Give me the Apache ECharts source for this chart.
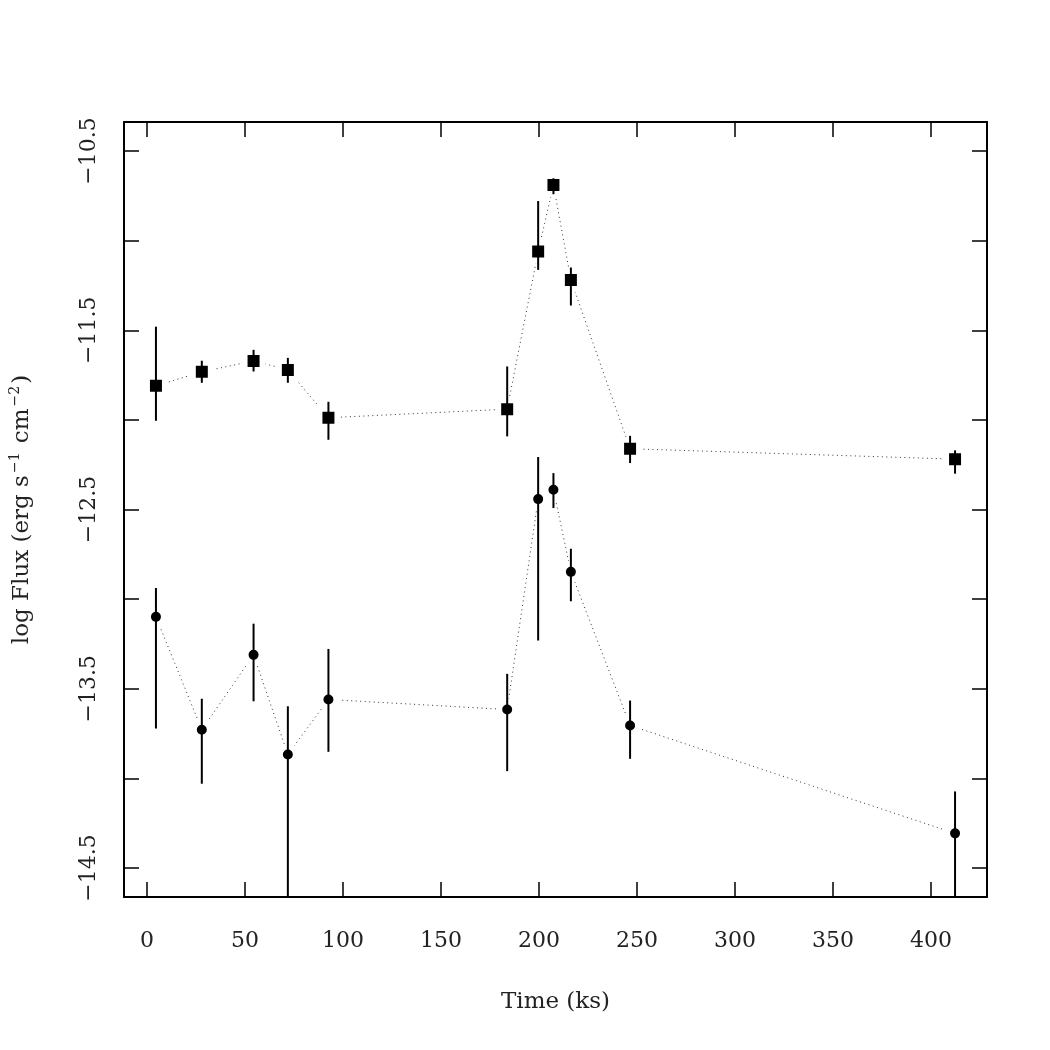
<!DOCTYPE html>
<html>
<head>
<meta charset="utf-8">
<script src="https://cdn.jsdelivr.net/npm/echarts@6/dist/echarts.min.js"></script>
<style>
  html, body { margin: 0; padding: 0; background: #fff; }
  #chart { width: 1050px; height: 1050px; }
</style>
</head>
<body>
<div id="chart"></div>
<script>
// observation times (ks)
const times = [4.6, 28.0, 54.4, 71.9, 92.6, 183.8, 199.6, 207.4, 216.3, 246.5, 412.3]

// upper curve (squares)
const squareFlux = [-11.81, -11.732, -11.671, -11.721, -11.988, -11.94, -11.061, -10.69, -11.219, -12.161, -12.219]
const squareHi = [-11.48, -11.67, -11.609, -11.654, -11.899, -11.702, -10.779, -10.652, -11.15, -12.089, -12.17]
const squareLo = [-12.005, -11.793, -11.73, -11.793, -12.111, -12.092, -11.163, -10.741, -11.362, -12.241, -12.3]

// lower curve (circles)
const circleFlux = [-13.099, -13.729, -13.311, -13.867, -13.56, -13.616, -12.442, -12.39, -12.848, -13.705, -14.307]
const circleHi = [-12.938, -13.556, -13.137, -13.598, -13.278, -13.417, -12.207, -12.297, -12.719, -13.566, -14.073]
const circleLo = [-13.722, -14.03, -13.57, -14.9, -13.852, -13.96, -13.231, -12.492, -13.012, -13.891, -14.9]

const xTicks = [0, 50, 100, 150, 200, 250, 300, 350, 400]
const yTicks = [-14.5, -14, -13.5, -13, -12.5, -12, -11.5, -11, -10.5]
const yLabels = [-14.5, -13.5, -12.5, -11.5, -10.5]

const FONT = 'DejaVu Serif'
const TXT = '#222'

const chart = echarts.init(document.getElementById('chart'))

function pairs(xs, ys) {
  return xs.map((x, i) => [x, ys[i]])
}

function errRows(lo, hi) {
  return times.map((t, i) => [t, lo[i], hi[i]])
}

// vertical error bar, clipped to the plot box
function renderErr(params, api) {
  const cs = params.coordSys
  const p1 = api.coord([api.value(0), api.value(1)])
  const p2 = api.coord([api.value(0), api.value(2)])
  const clamp = (y) => Math.min(Math.max(y, cs.y), cs.y + cs.height)
  return {
    type: 'line',
    shape: { x1: p1[0], y1: clamp(p1[1]), x2: p2[0], y2: clamp(p2[1]) },
    style: { stroke: '#000', lineWidth: 2 },
  }
}

const tickStyle = { show: true, inside: true, length: 15, lineStyle: { color: '#000', width: 1.5 } }
const lineStyleAxis = { show: true, onZero: false, lineStyle: { color: '#000', width: 2 } }
const dotted = { color: '#333', width: 1, type: [1, 3.5] }

const option = {
  animation: false,
  backgroundColor: '#fff',
  grid: { left: 123, right: 63, top: 122, bottom: 153 },
  xAxis: [
    {
      type: 'value',
      position: 'bottom',
      min: -11.7,
      max: 428.6,
      splitLine: { show: false },
      axisLine: lineStyleAxis,
      axisTick: { ...tickStyle, customValues: xTicks },
      axisLabel: {
        customValues: xTicks,
        margin: 33,
        fontFamily: FONT,
        fontSize: 22,
        color: TXT,
      },
      name: 'Time (ks)',
      nameLocation: 'middle',
      nameGap: 94,
      nameTextStyle: { fontFamily: FONT, fontSize: 23, color: TXT },
    },
    {
      type: 'value',
      position: 'top',
      min: -11.7,
      max: 428.6,
      splitLine: { show: false },
      axisLine: lineStyleAxis,
      axisTick: { ...tickStyle, customValues: xTicks },
      axisLabel: { show: false },
    },
  ],
  yAxis: [
    {
      type: 'value',
      position: 'left',
      min: -14.662,
      max: -10.338,
      splitLine: { show: false },
      axisLine: lineStyleAxis,
      axisTick: { ...tickStyle, customValues: yTicks },
      axisLabel: {
        customValues: yLabels,
        rotate: 90,
        margin: 24,
        fontFamily: FONT,
        fontSize: 22,
        color: TXT,
        formatter: (v) => v.toFixed(1).replace('-', '\u2212'),
      },
      name: '{n|log Flux (erg s}{s|\u22121}{n| cm}{s|\u22122}{n|)}',
      nameLocation: 'middle',
      nameGap: 90,
      nameTextStyle: {
        color: TXT,
        rich: {
          n: { fontFamily: FONT, fontSize: 23, color: TXT, verticalAlign: 'bottom' },
          s: { fontFamily: FONT, fontSize: 14, color: TXT, verticalAlign: 'bottom', padding: [0, 2, 12, 2] },
        },
      },
    },
    {
      type: 'value',
      position: 'right',
      min: -14.662,
      max: -10.338,
      splitLine: { show: false },
      axisLine: lineStyleAxis,
      axisTick: { ...tickStyle, customValues: yTicks },
      axisLabel: { show: false },
    },
  ],
  series: [
    {
      type: 'line',
      data: pairs(times, squareFlux),
      symbol: 'rect',
      symbolSize: 18,
      lineStyle: dotted,
      itemStyle: { color: '#000', borderColor: '#fff', borderWidth: 6 },
      z: 2,
    },
    {
      type: 'line',
      data: pairs(times, circleFlux),
      symbol: 'circle',
      symbolSize: 16,
      lineStyle: dotted,
      itemStyle: { color: '#000', borderColor: '#fff', borderWidth: 6 },
      z: 2,
    },
    {
      type: 'custom',
      renderItem: renderErr,
      data: errRows(squareLo, squareHi),
      encode: { x: 0, y: [1, 2] },
      z: 3,
    },
    {
      type: 'custom',
      renderItem: renderErr,
      data: errRows(circleLo, circleHi),
      encode: { x: 0, y: [1, 2] },
      z: 3,
    },
  ],
}

chart.setOption(option)
</script>
</body>
</html>
